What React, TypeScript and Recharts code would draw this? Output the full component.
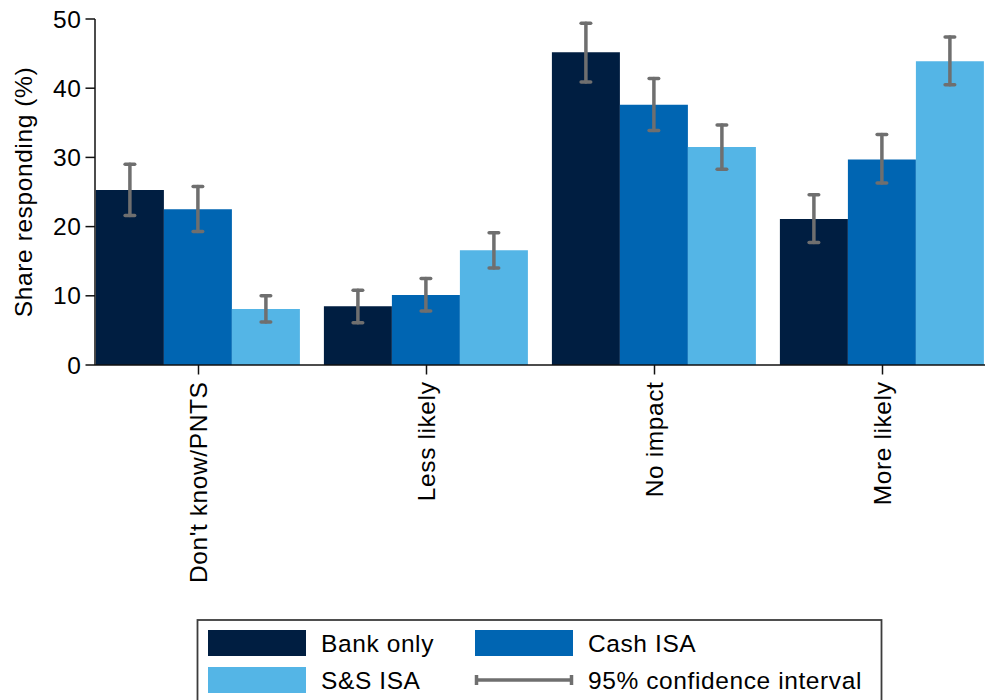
import { BarChart, Bar, XAxis, YAxis, ErrorBar, Legend } from "recharts"

const categories = ["Don't know/PNTS", "Less likely", "No impact", "More likely"]

const bankOnly = [25.3, 8.5, 45.2, 21.1]
const bankOnlyLow = [21.6, 6.1, 40.9, 17.7]
const bankOnlyHigh = [29.0, 10.8, 49.4, 24.6]

const cashIsa = [22.5, 10.1, 37.6, 29.7]
const cashIsaLow = [19.3, 7.8, 33.9, 26.3]
const cashIsaHigh = [25.8, 12.5, 41.4, 33.3]

const ssIsa = [8.1, 16.6, 31.5, 43.9]
const ssIsaLow = [6.2, 14.0, 28.3, 40.5]
const ssIsaHigh = [10.0, 19.1, 34.7, 47.4]

const yTicks = [0, 10, 20, 30, 40, 50]

const series = [
  { key: "bank", name: "Bank only", color: "#001e41" },
  { key: "cash", name: "Cash ISA", color: "#0065b2" },
  { key: "ss", name: "S&S ISA", color: "#54b5e6" },
]

const CI_COLOR = "#6f6f6f"
const TEXT = "#000"
const FONT_SIZE = 24.5
const FONT = "'Liberation Sans', Arial, Helvetica, sans-serif"

// ErrorBar wants [below, above] distances from the bar value
const spread = (v: number, lo: number, hi: number) => [v - lo, hi - v]

const data = categories.map((category, i) => ({
  category,
  bank: bankOnly[i],
  bankErr: spread(bankOnly[i], bankOnlyLow[i], bankOnlyHigh[i]),
  cash: cashIsa[i],
  cashErr: spread(cashIsa[i], cashIsaLow[i], cashIsaHigh[i]),
  ss: ssIsa[i],
  ssErr: spread(ssIsa[i], ssIsaLow[i], ssIsaHigh[i]),
}))

function CategoryTick({ x, y, payload }: any) {
  return (
    <text
      x={x}
      y={y}
      dy="0.36em"
      transform={`rotate(-90 ${x} ${y})`}
      textAnchor="end"
      fill={TEXT}
      fontSize={FONT_SIZE}
    >
      {payload.value}
    </text>
  )
}

function AxisTitle({ viewBox }: any) {
  const cx = viewBox.x + 32
  const cy = viewBox.y + viewBox.height / 2
  return (
    <text
      x={cx}
      y={cy}
      transform={`rotate(-90 ${cx} ${cy})`}
      textAnchor="middle"
      fill={TEXT}
      fontSize={FONT_SIZE}
    >
      Share responding (%)
    </text>
  )
}

function LegendBox({ payload = [] }: any) {
  const cols = [12, 279]
  const rows = [11, 48]
  const items = payload.map((p: any) => ({ label: p.value, color: p.color }))
  items.push({ label: "95% confidence interval", color: null })
  return (
    <svg width={690} height={81} style={{ display: "block", overflow: "hidden" }}>
      <rect x={1.5} y={1} width={684} height={120} fill="#fff" stroke="#3c3c3c" strokeWidth={1.8} />
      {items.map((it: any, i: number) => {
        const x = cols[i % 2]
        const y = rows[Math.floor(i / 2)]
        return (
          <g key={it.label}>
            {it.color ? (
              <rect x={x} y={y} width={98} height={26} fill={it.color} />
            ) : (
              <g stroke={CI_COLOR} strokeWidth={3.5}>
                <line x1={x + 1} y1={y + 13} x2={x + 97} y2={y + 13} />
                <line x1={x + 1.5} y1={y + 8} x2={x + 1.5} y2={y + 18} />
                <line x1={x + 96.5} y1={y + 8} x2={x + 96.5} y2={y + 18} />
              </g>
            )}
            <text x={x + 113} y={y + 22} fontSize={FONT_SIZE} fill={TEXT}>
              {it.label}
            </text>
          </g>
        )
      })}
    </svg>
  )
}

export default function App() {
  return (
    <div
      style={{
        position: "absolute",
        left: 0,
        top: 0,
        width: 985,
        height: 700,
        overflow: "hidden",
        background: "#fff",
        fontFamily: FONT,
        letterSpacing: "0.6px",
      }}
    >
      <BarChart
        width={1000}
        height={700}
        data={data}
        margin={{ top: 19, right: 0, bottom: 105, left: 0 }}
        barCategoryGap="5%"
        barGap={0}
      >
        <XAxis
          dataKey="category"
          interval={0}
          height={230}
          padding={{ left: -10.5, right: 3.5 }}
          tick={<CategoryTick />}
          tickSize={9.5}
          tickMargin={7}
          axisLine={{ stroke: "#111", strokeWidth: 1.5 }}
          tickLine={{ stroke: "#111", strokeWidth: 1.5 }}
        />
        <YAxis
          width={95}
          domain={[0, 50]}
          ticks={yTicks}
          interval={0}
          tickSize={9.5}
          tickMargin={4}
          tick={{ fill: TEXT, fontSize: FONT_SIZE }}
          axisLine={{ stroke: "#111", strokeWidth: 1.5 }}
          tickLine={{ stroke: "#111", strokeWidth: 1.5 }}
          label={<AxisTitle />}
        />
        <Legend
          layout="horizontal"
          align="center"
          verticalAlign="middle"
          content={<LegendBox />}
          wrapperStyle={{ left: 196, top: 619, width: 690, height: 81 }}
        />
        {series.map((s) => (
          <Bar key={s.key} dataKey={s.key} name={s.name} fill={s.color} isAnimationActive={false}>
            <ErrorBar
              dataKey={`${s.key}Err`}
              direction="y"
              width={4.8}
              stroke={CI_COLOR}
              strokeWidth={3.5}
              strokeLinecap="round"
              isAnimationActive={false}
            />
          </Bar>
        ))}
      </BarChart>
    </div>
  )
}
